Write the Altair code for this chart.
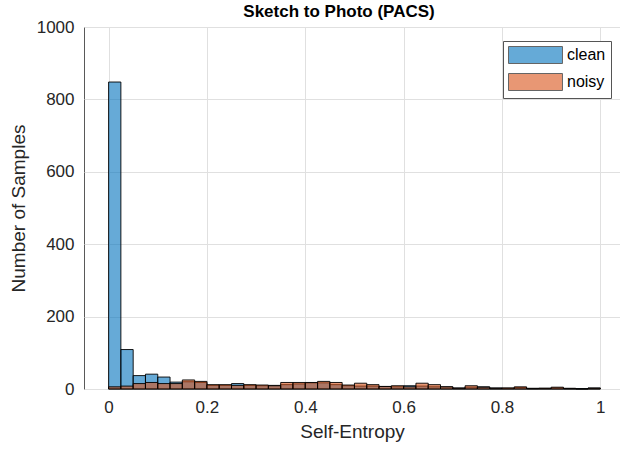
import altair as alt
import pandas as pd

# ---- data (40 bins of width 0.025 on [0, 1]) ----
BIN_WIDTH = 0.025
bin_starts = [round(i * BIN_WIDTH, 3) for i in range(40)]

clean_counts = [848, 109, 37, 41, 33, 19, 20, 18, 10, 10,
                15, 10, 9, 10, 12, 14, 17, 17, 12, 9,
                8, 8, 7, 6, 9, 8, 6, 6, 3, 5,
                6, 3, 2, 4, 2, 2, 3, 2, 1, 3]
noisy_counts = [6, 8, 15, 18, 15, 15, 25, 21, 12, 12,
                10, 12, 11, 9, 18, 18, 18, 21, 18, 11,
                16, 12, 7, 9, 6, 16, 12, 6, 2, 9,
                5, 2, 3, 6, 1, 2, 5, 1, 0, 2]

series_names = ["clean", "noisy"]
series_colors = ["#0072BD", "#D95319"]
x_ticks = [0, 0.2, 0.4, 0.6, 0.8, 1]
y_ticks = [0, 200, 400, 600, 800, 1000]

rows = []
for name, counts in zip(series_names, [clean_counts, noisy_counts]):
    for s, c in zip(bin_starts, counts):
        rows.append({"series": name, "start": s,
                     "end": round(s + BIN_WIDTH, 3), "count": c})
df = pd.DataFrame(rows)

FONT = "Liberation Sans"
TXT = "#262626"

bars = alt.Chart(df).mark_bar(
    fillOpacity=0.6, stroke="black", strokeWidth=0.9, strokeOpacity=1
).encode(
    x=alt.X("start:Q",
            scale=alt.Scale(domain=[-0.05, 1.04], nice=False, zero=False),
            axis=alt.Axis(values=x_ticks, format="~g", title="Self-Entropy",
                          grid=True, ticks=False, tickSize=0, domain=False,
                          labelFlush=False,
                          labelPadding=10, titlePadding=7)),
    x2="end:Q",
    y=alt.Y("count:Q", stack=None,
            scale=alt.Scale(domain=[0, 1000], nice=False),
            axis=alt.Axis(values=y_ticks, format="d", title="Number of Samples",
                          grid=True, ticks=False, tickSize=0, domain=False,
                          labelFlush=False,
                          labelPadding=10, titlePadding=8)),
    y2=alt.datum(0),
    color=alt.Color("series:N",
                    scale=alt.Scale(domain=series_names, range=series_colors),
                    legend=alt.Legend(
                        title=None, orient="none", legendX=419, legendY=14,
                        symbolType="M-1,-1H5.35V1H-1Z", symbolSize=289,
                        symbolStrokeColor="black", symbolStrokeWidth=1,
                        symbolOpacity=0.6,
                        labelOffset=41, rowPadding=5, padding=5,
                        labelFontSize=16, labelFont=FONT, labelColor="black",
                        fillColor="white", strokeColor="#555555")),
)

chart = bars.properties(
    width=536, height=362,
    title=alt.TitleParams("Sketch to Photo (PACS)", fontSize=17, font=FONT,
                          fontWeight="bold", color="black", anchor="middle",
                          dx=-13, baseline="alphabetic", offset=-16),
    autosize=alt.AutoSizeParams(type="none"),
    padding={"left": 84, "top": 27, "right": 0, "bottom": 60},
).configure_view(
    stroke="#595959", strokeWidth=1
).configure_axis(
    labelFont=FONT, labelFontSize=17, labelColor=TXT,
    titleFont=FONT, titleFontSize=19, titleColor=TXT, titleFontWeight="normal",
    gridColor="#e0e0e0", gridWidth=1,
)

chart.save("out.html", embed_options={"renderer": "svg", "actions": False})
